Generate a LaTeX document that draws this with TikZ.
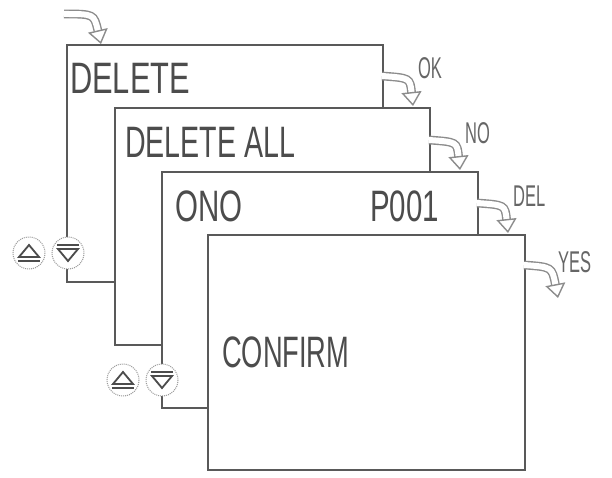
\documentclass[tikz,border=0pt]{standalone}
\usepackage{fontspec}
\setmainfont{Liberation Sans}
\usetikzlibrary{arrows.meta}
\begin{document}
\begin{tikzpicture}[x=1pt,y=-1pt,
  ln/.style={draw=black!65,line width=1.6pt},
  lbl/.style={text=black!70,font=\fontsize{44}{44}\selectfont,inner sep=0pt,anchor=west},
  sl/.style={text=black!60,font=\fontsize{30}{30}\selectfont,inner sep=0pt,anchor=west},
  carrow/.style={draw=black!45,line width=1.4pt,double=white,double distance=6pt,-{Triangle[open,length=14pt,width=20pt]}},
  btn/.style={circle,draw=black!40,densely dotted,line width=1pt,inner sep=0pt}]
\useasboundingbox (0,0) rectangle (612,478);
\fill[white] (0,0) rectangle (612,478);
% boxes outlines
\draw[ln] (115,282) -- (67,282) -- (67,269);
\draw[ln] (67,237) -- (67,45) -- (383,45) -- (383,108);
\draw[ln] (162,345) -- (115,345) -- (115,108) -- (430,108) -- (430,172);
\draw[ln] (208,408) -- (162,408) -- (162,396);
\draw[ln] (162,364) -- (162,172) -- (478,172) -- (478,235);
\draw[ln,fill=white] (208,235) rectangle (525,470);
% buttons
\coordinate (u1) at (29,253); \coordinate (d1) at (68,253);
\coordinate (u2) at (123,380); \coordinate (d2) at (162,380);
\foreach \c in {u1,d1,u2,d2}{\draw[btn] (\c) circle[radius=16];}
\foreach \c in {u1,u2}{\draw[black!70,line width=1.8pt] ([shift={(-10,4)}]\c) -- ([shift={(0,-8)}]\c) -- ([shift={(10,4)}]\c) -- cycle; \draw[black!70,line width=2.4pt] ([shift={(-11,8)}]\c) -- ([shift={(11,8)}]\c);}
\foreach \c in {d1,d2}{\draw[black!70,line width=1.8pt] ([shift={(-10,-4)}]\c) -- ([shift={(0,8)}]\c) -- ([shift={(10,-4)}]\c) -- cycle; \draw[black!70,line width=2.4pt] ([shift={(-11,-8)}]\c) -- ([shift={(11,-8)}]\c);}
% texts
\node[lbl,xscale=0.7] (t1) at (70,78) {DELETE};
\node[lbl,xscale=0.65] (t2) at (125,142) {DELETE ALL};
\node[lbl,xscale=0.67] (t3) at (175,206) {ONO};
\node[lbl,xscale=0.67] (t4) at (370,206) {P001};
\node[lbl,xscale=0.62] (t5) at (222,352) {CONFIRM};
\node[sl,xscale=0.55] (k1) at (418,68) {OK};
\node[sl,xscale=0.55] (k2) at (465,133) {NO};
\node[sl,xscale=0.55] (k3) at (513,196) {DEL};
\node[sl,xscale=0.55] (k4) at (558,262) {YES};
% curved arrows
\coordinate (a0) at (64,14); \coordinate (b0) at (101,44);
\draw[carrow] (a0) .. controls (94,14) .. (b0);
\coordinate (a1) at (382,76); \coordinate (b1) at (413,106);
\draw[carrow] (a1) .. controls (410,78) .. (b1);
\coordinate (a2) at (429,140); \coordinate (b2) at (460,170);
\draw[carrow] (a2) .. controls (457,142) .. (b2);
\coordinate (a3) at (477,203); \coordinate (b3) at (508,233);
\draw[carrow] (a3) .. controls (505,205) .. (b3);
\coordinate (a4) at (524,265); \coordinate (b4) at (558,298);
\draw[carrow] (a4) .. controls (552,267) .. (b4);
\end{tikzpicture}
\end{document}
